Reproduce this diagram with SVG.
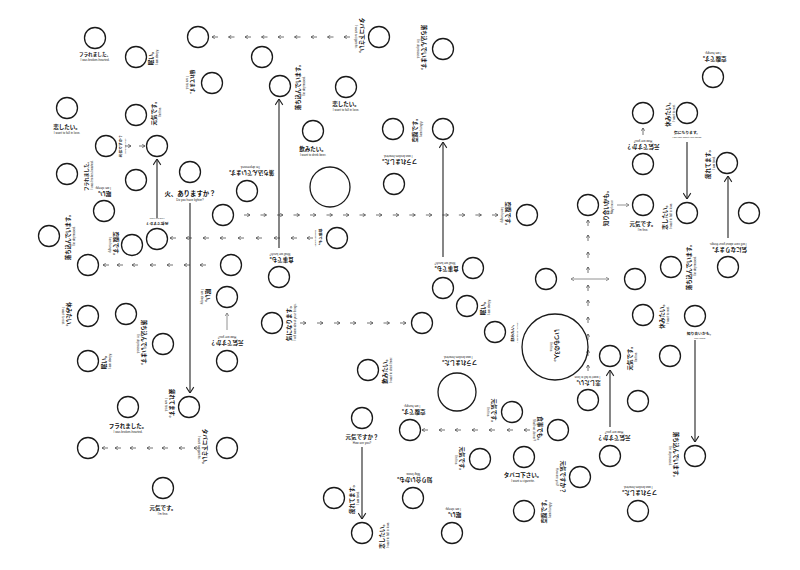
<svg xmlns="http://www.w3.org/2000/svg" width="800" height="570" viewBox="0 0 800 570">
<style>
.c{fill:none;stroke:#1a1a1a;stroke-width:1.3}
.j{font-family:"Noto Sans CJK JP","Noto Sans CJK SC",sans-serif;font-weight:700;font-size:5.5px;text-anchor:middle;fill:#111}
.e{font-family:"Liberation Sans",Arial,sans-serif;font-size:3px;text-anchor:middle;fill:#222}
.sj{font-size:3.8px}
.se{font-size:2.4px}
.d{stroke:#444;stroke-width:0.75;fill:none;marker-end:url(#s)}
.g{stroke:#777;stroke-width:0.8;fill:none}
.l{stroke:#222;stroke-width:1.1;fill:none;marker-end:url(#b)}
</style>
<defs>
<marker id="s" viewBox="0 0 6 6" refX="5.5" refY="3" markerWidth="4.2" markerHeight="4.2" orient="auto" markerUnits="userSpaceOnUse"><path d="M1.5,0.5 L5.5,3 L1.5,5.5" fill="none" stroke="#444" stroke-width="1"/></marker>
<marker id="sg" viewBox="0 0 6 6" refX="5.5" refY="3" markerWidth="4.5" markerHeight="4.5" orient="auto" markerUnits="userSpaceOnUse"><path d="M1.5,0.5 L5.5,3 L1.5,5.5" fill="none" stroke="#777" stroke-width="1"/></marker>
<marker id="sgs" viewBox="0 0 6 6" refX="0.5" refY="3" markerWidth="4.5" markerHeight="4.5" orient="auto" markerUnits="userSpaceOnUse"><path d="M4.5,0.5 L0.5,3 L4.5,5.5" fill="none" stroke="#777" stroke-width="1"/></marker>
<marker id="b" viewBox="0 0 10 10" refX="9.5" refY="5" markerWidth="9" markerHeight="9" orient="auto" markerUnits="userSpaceOnUse"><path d="M3,0.8 L9.5,5 L3,9.2" fill="none" stroke="#222" stroke-width="1.2"/></marker>
</defs>
<rect width="800" height="570" fill="#fff"/>

<g id="connectors">
<g class="d">
<path d="M218,37h-6"/><path d="M234.5,37h-6"/><path d="M251,37h-6"/><path d="M267.5,37h-6"/><path d="M284,37h-6"/><path d="M300.5,37h-6"/><path d="M317,37h-6"/><path d="M333.5,37h-6"/><path d="M350,37h-6"/>
<path d="M176,238h-6"/><path d="M192,238h-6"/><path d="M209,238h-6"/><path d="M226,238h-6"/><path d="M244,238h-6"/><path d="M262,238h-6"/><path d="M280,238h-6"/><path d="M297,238h-6"/><path d="M313,238h-6"/>
<path d="M109,265h-6"/><path d="M123,265h-6"/><path d="M138,265h-6"/><path d="M156,265h-6"/><path d="M173,265h-6"/><path d="M190,265h-6"/><path d="M206,265h-6"/>
<path d="M244,215h6"/><path d="M260.5,215h6"/><path d="M277,215h6"/><path d="M293.5,215h6"/><path d="M310,215h6"/><path d="M326.5,215h6"/><path d="M343,215h6"/><path d="M359.5,215h6"/><path d="M376,215h6"/><path d="M392.8,215h6"/><path d="M409.3,215h6"/><path d="M425.9,215h6"/><path d="M442.4,215h6"/><path d="M458.9,215h6"/><path d="M475.4,215h6"/><path d="M492,215h6"/>
<path d="M300,323h6"/><path d="M317,323h6"/><path d="M334,323h6"/><path d="M350,323h6"/><path d="M367,323h6"/><path d="M383.5,323h6"/><path d="M400,323h6"/>
<path d="M108,448h-6"/><path d="M121,448h-6"/><path d="M136,448h-6"/><path d="M153,448h-6"/><path d="M168,448h-6"/><path d="M185,448h-6"/><path d="M200,448h-6"/>
<path d="M428,430h-6"/><path d="M445,430h-6"/><path d="M461,430h-6"/><path d="M478,430h-6"/><path d="M495,430h-6"/><path d="M513,430h-6"/><path d="M530,430h-6"/>
<path d="M588,226v-6"/><path d="M588,241v-6"/><path d="M588,258v-6"/><path d="M588,273v-6"/><path d="M588,291v-6"/><path d="M588,306v-6"/><path d="M588,323v-6"/><path d="M588,340v-6"/><path d="M588,356v-6"/><path d="M588,371v-6"/>
<path d="M125,146h6"/><path d="M139,146h6"/>
<path d="M643,135v-7"/>
</g>
<path class="g" d="M617,205h12" marker-end="url(#sg)"/>
<path class="g" d="M227,330v-17" marker-end="url(#sg)"/>
<path class="g" d="M571,279h38" marker-start="url(#sgs)" marker-end="url(#sg)"/>
<path class="l" d="M157,218V159"/>
<path class="l" d="M279,248V99"/>
<path class="l" d="M443,257V142"/>
<path class="l" d="M190,203V393"/>
<path class="l" d="M687,142V199"/>
<path class="l" d="M728,238V176"/>
<path class="l" d="M695,340V442"/>
<path class="l" d="M610,427V370"/>
<path class="l" d="M362,447V519"/>
</g>

<g id="n1"><circle class="c" cx="95" cy="38" r="10.5"/><g transform="translate(95,56)"><text class="j" style="font-size:4.6px">フラれました。</text><text class="e" y="5">I was broken-hearted.</text></g></g>
<g id="n2"><circle class="c" cx="136" cy="57" r="10.5"/><g transform="translate(153,57) rotate(-90)"><text class="j">眠い。</text><text class="e" y="5">I am sleepy.</text></g></g>
<g id="n3"><circle class="c" cx="198" cy="37" r="10.5"/></g>
<g id="n4"><circle class="c" cx="262" cy="57" r="10.5"/></g>
<g id="n5"><circle class="c" cx="212" cy="83" r="10.5"/><g transform="translate(191,83) rotate(90)"><text class="j" style="font-size:4.6px">疲れてます。</text><text class="e" y="5">I am tired.</text></g></g>
<g id="n6"><circle class="c" cx="280" cy="86" r="10.5"/><g transform="translate(300,86) rotate(-90)"><text class="j">落ち込んでいます。</text><text class="e" y="5">I'm depressed.</text></g></g>
<g id="n7"><circle class="c" cx="346" cy="87" r="10.5"/><g transform="translate(346,106)"><text class="j">恋したい。</text><text class="e" y="5">I want to fall in love.</text></g></g>
<g id="n8"><circle class="c" cx="379" cy="37" r="10.5"/><g transform="translate(360,37) rotate(90)"><text class="j">タバコ下さい。</text><text class="e" y="5">I want a cigarette.</text></g></g>
<g id="n9"><circle class="c" cx="443" cy="49" r="10.5"/><g transform="translate(422,49) rotate(90)"><text class="j">落ち込んでいます。</text><text class="e" y="5">I'm depressed.</text></g></g>
<g id="n10"><circle class="c" cx="67" cy="108" r="10.5"/><g transform="translate(67,129)"><text class="j">恋したい。</text><text class="e" y="5">I want to fall in love.</text></g></g>
<g id="n11"><circle class="c" cx="136" cy="115" r="10.5"/><g transform="translate(156,112) rotate(-90)"><text class="j">元気です。</text><text class="e" y="5">I'm fine.</text></g></g>
<g id="n12"><circle class="c" cx="713" cy="77" r="10.5"/><g transform="translate(713,57) rotate(180)"><text class="j">空腹です。</text><text class="e" y="5">I am hungry.</text></g></g>
<g id="n13"><circle class="c" cx="313" cy="131" r="10.5"/><g transform="translate(313,151)"><text class="j">飲みたい。</text><text class="e" y="5">I want to drink beer.</text></g></g>
<g id="n14"><circle class="c" cx="393" cy="129" r="10.5"/><g transform="translate(417,129) rotate(-90)"><text class="j">空腹です。</text><text class="e" y="5">I am hungry.</text></g></g>
<g id="n15"><circle class="c" cx="443" cy="129" r="10.5"/></g>
<g id="n16"><circle class="c" cx="643" cy="113" r="10.5"/><g transform="translate(670,113) rotate(-90)"><text class="j">休みたい。</text><text class="e" y="5">I want to rest.</text></g></g>
<g id="n17"><circle class="c" cx="687" cy="113" r="10.5"/><g transform="translate(687,133.5)"><text class="j sj">気になります。</text><text class="e se" y="4">I will care about your things.</text></g></g>
<g id="n18"><circle class="c" cx="643" cy="164" r="10.5"/><g transform="translate(643,145) rotate(180)"><text class="j">元気ですか？</text><text class="e" y="5">How are you?</text></g></g>
<g id="n19"><circle class="c" cx="727" cy="163" r="10.5"/><g transform="translate(710,163) rotate(-90)"><text class="j">疲れてます。</text><text class="e" y="5">I am tired.</text></g></g>
<g id="n20"><circle class="c" cx="67" cy="174" r="10.5"/><g transform="translate(88,175) rotate(-90)"><text class="j" style="font-size:4.6px">フラれました。</text><text class="e" y="5">I was broken-hearted.</text></g></g>
<g id="n21"><circle class="c" cx="106" cy="146" r="10.5"/><g transform="translate(122,146) rotate(-90)"><text class="j sj">元気ですか？</text><text class="e se" y="4">How are you?</text></g></g>
<g id="n22"><circle class="c" cx="157" cy="146" r="10.5"/></g>
<g id="n23"><circle class="c" cx="136" cy="180" r="10.5"/></g>
<g id="n24"><circle class="c" cx="190" cy="172" r="10.5"/><g transform="translate(190,196)"><text class="j" style="font-size:6.4px">火、ありますか？</text><text class="e" y="5">Do you have lighter?</text></g></g>
<g id="n25"><circle class="c" cx="247" cy="191" r="10.5"/><g transform="translate(250,171) rotate(180)"><text class="j">落ち込んでいます。</text><text class="e" y="5">I'm depressed.</text></g></g>
<g id="n26"><circle class="c" cx="330" cy="187" r="20"/></g>
<g id="n27"><circle class="c" cx="394" cy="184" r="10.5"/><g transform="translate(398,160) rotate(180)"><text class="j">フラれました。</text><text class="e" y="5">I was broken-hearted.</text></g></g>
<g id="n28"><circle class="c" cx="104" cy="211" r="10.5"/><g transform="translate(103,192) rotate(180)"><text class="j">眠い。</text><text class="e" y="5">I am sleepy.</text></g></g>
<g id="n29"><circle class="c" cx="223" cy="215" r="10.5"/></g>
<g id="n30"><circle class="c" cx="49" cy="236" r="10.5"/><g transform="translate(70,236) rotate(-90)"><text class="j">落ち込んでいます。</text><text class="e" y="5">I'm depressed.</text></g></g>
<g id="n31"><circle class="c" cx="132" cy="245" r="10.5"/><g transform="translate(114,245) rotate(90)"><text class="j">空腹です。</text><text class="e" y="5">I am hungry.</text></g></g>
<g id="n32"><circle class="c" cx="157" cy="239" r="10.5"/><g transform="translate(157,222) rotate(180)"><text class="j sj">元気ですか？</text><text class="e se" y="4">How are you?</text></g></g>
<g id="n33"><circle class="c" cx="337" cy="238" r="10.5"/><g transform="translate(319,238) rotate(90)"><text class="j sj">食事でも。</text><text class="e se" y="4">Shall we lunch?</text></g></g>
<g id="n34"><circle class="c" cx="88" cy="265" r="10.5"/></g>
<g id="n35"><circle class="c" cx="231" cy="265" r="10.5"/></g>
<g id="n36"><circle class="c" cx="279" cy="277" r="10.5"/><g transform="translate(280,258) rotate(180)"><text class="j">食事でも。</text><text class="e" y="5">Shall we lunch?</text></g></g>
<g id="n37"><circle class="c" cx="527" cy="215" r="10.5"/><g transform="translate(506,215) rotate(90)"><text class="j">空腹です。</text><text class="e" y="5">I am hungry.</text></g></g>
<g id="n38"><circle class="c" cx="588" cy="205" r="10.5"/><g transform="translate(608,207) rotate(-90)"><text class="j">知り合いかも。</text><text class="e" y="5">May know.</text></g></g>
<g id="n39"><circle class="c" cx="643" cy="205" r="10.5"/><g transform="translate(643,226)"><text class="j">元気です。</text><text class="e" y="5">I'm fine.</text></g></g>
<g id="n40"><circle class="c" cx="687" cy="213" r="10.5"/><g transform="translate(667,216) rotate(-90)"><text class="j">恋したい。</text><text class="e" y="5">I want to fall in love.</text></g></g>
<g id="n41"><circle class="c" cx="749" cy="213" r="10.5"/></g>
<g id="n42"><circle class="c" cx="671" cy="267" r="10.5"/><g transform="translate(691,266) rotate(-90)"><text class="j">落ち込んでいます。</text><text class="e" y="5">I'm depressed.</text></g></g>
<g id="n43"><circle class="c" cx="728" cy="267" r="10.5"/><g transform="translate(728,248) rotate(180)"><text class="j">気になります。</text><text class="e" y="5">I will care about your things.</text></g></g>
<g id="n44"><circle class="c" cx="635" cy="279" r="10.5"/></g>
<g id="n45"><circle class="c" cx="546" cy="279" r="10.5"/></g>
<g id="n46"><circle class="c" cx="473" cy="268" r="10.5"/><g transform="translate(445,267) rotate(180)"><text class="j">食事でも。</text><text class="e" y="5">Shall we lunch?</text></g></g>
<g id="n47"><circle class="c" cx="443" cy="288" r="10.5"/></g>
<g id="n48"><circle class="c" cx="467" cy="306" r="10.5"/><g transform="translate(485,307) rotate(-90)"><text class="j">眠い。</text><text class="e" y="5">I am sleepy.</text></g></g>
<g id="n49"><circle class="c" cx="495" cy="332" r="10.5"/><g transform="translate(513.5,332) rotate(-90)"><text class="j sj">飲みたい。</text><text class="e se" y="4">I want to drink beer.</text></g></g>
<g id="n50"><circle class="c" cx="227" cy="297" r="10.5"/><g transform="translate(206,297) rotate(90)"><text class="j">眠い。</text><text class="e" y="5">I am sleepy.</text></g></g>
<g id="n51"><circle class="c" cx="88" cy="316" r="10.5"/><g transform="translate(67,316) rotate(90)"><text class="j">休みたい。</text><text class="e" y="5">I want to rest.</text></g></g>
<g id="n52"><circle class="c" cx="126" cy="314" r="10.5"/></g>
<g id="n53"><circle class="c" cx="163" cy="344" r="10.5"/><g transform="translate(142,344) rotate(90)"><text class="j">落ち込んでいます。</text><text class="e" y="5">I'm depressed.</text></g></g>
<g id="n54"><circle class="c" cx="88" cy="361" r="10.5"/><g transform="translate(106,361) rotate(-90)"><text class="j">眠い。</text><text class="e" y="5">I am sleepy.</text></g></g>
<g id="n55"><circle class="c" cx="227" cy="361" r="10.5"/><g transform="translate(227,341) rotate(180)"><text class="j">元気ですか？</text><text class="e" y="5">How are you?</text></g></g>
<g id="n56"><circle class="c" cx="272" cy="323" r="10.5"/><g transform="translate(291,322) rotate(-90)"><text class="j">気になります。</text><text class="e" y="5">I will care about your things.</text></g></g>
<g id="n57"><circle class="c" cx="422" cy="323" r="10.5"/></g>
<g id="n58"><circle class="c" cx="555" cy="347" r="33"/><g transform="translate(555,347) rotate(90)"><text class="j">いつもの3人。</text><text class="e" y="5">I'm fine.</text></g></g>
<g id="n59"><circle class="c" cx="368" cy="370" r="10.5"/><g transform="translate(387,370) rotate(-90)"><text class="j">飲みたい。</text><text class="e" y="5">I want to drink beer.</text></g></g>
<g id="n60"><circle class="c" cx="457" cy="392" r="19"/><g transform="translate(458,361) rotate(180)"><text class="j">フラれました。</text><text class="e" y="5">I was broken-hearted.</text></g></g>
<g id="n61"><circle class="c" cx="643" cy="315" r="10.5"/><g transform="translate(664,315) rotate(-90)"><text class="j">休みたい。</text><text class="e" y="5">I want to rest.</text></g></g>
<g id="n62"><circle class="c" cx="695" cy="316" r="10.5"/><g transform="translate(700,334.5)"><text class="j sj">知り合いかも。</text><text class="e se" y="4">May know.</text></g></g>
<g id="n63"><circle class="c" cx="670" cy="356" r="10.5"/></g>
<g id="n64"><circle class="c" cx="610" cy="356" r="10.5"/><g transform="translate(632,357) rotate(-90)"><text class="j">元気です。</text><text class="e" y="5">I'm fine.</text></g></g>
<g id="n65"><circle class="c" cx="588" cy="400" r="10.5"/><g transform="translate(587,381) rotate(180)"><text class="j">恋したい。</text><text class="e" y="5">I want to fall in love.</text></g></g>
<g id="n66"><circle class="c" cx="189" cy="407" r="10.5"/><g transform="translate(170,405) rotate(90)"><text class="j">疲れてます。</text><text class="e" y="5">I am tired.</text></g></g>
<g id="n67"><circle class="c" cx="128" cy="407" r="10.5"/><g transform="translate(128,428)"><text class="j">フラれました。</text><text class="e" y="5">I was broken-hearted.</text></g></g>
<g id="n68"><circle class="c" cx="638" cy="401" r="10.5"/></g>
<g id="n69"><circle class="c" cx="362" cy="418" r="10.5"/><g transform="translate(362,439)"><text class="j">元気ですか？</text><text class="e" y="5">How are you?</text></g></g>
<g id="n70"><circle class="c" cx="88" cy="448" r="10.5"/></g>
<g id="n71"><circle class="c" cx="227" cy="448" r="10.5"/><g transform="translate(203,448) rotate(90)"><text class="j">タバコ下さい。</text><text class="e" y="5">I want a cigarette.</text></g></g>
<g id="n72"><circle class="c" cx="410" cy="430" r="10.5"/><g transform="translate(412,410) rotate(180)"><text class="j">空腹です。</text><text class="e" y="5">I am hungry.</text></g></g>
<g id="n73"><circle class="c" cx="512" cy="412" r="10.5"/><g transform="translate(492,412) rotate(90)"><text class="j">元気です。</text><text class="e" y="5">I'm fine.</text></g></g>
<g id="n74"><circle class="c" cx="558" cy="430" r="10.5"/><g transform="translate(538,430) rotate(90)"><text class="j">食事でも。</text><text class="e" y="5">Shall we dinner?</text></g></g>
<g id="n75"><circle class="c" cx="610" cy="456" r="10.5"/><g transform="translate(614,436) rotate(180)"><text class="j">元気ですか？</text><text class="e" y="5">How are you?</text></g></g>
<g id="n76"><circle class="c" cx="695" cy="456" r="10.5"/><g transform="translate(674,456) rotate(90)"><text class="j">落ち込んでいます。</text><text class="e" y="5">I'm depressed.</text></g></g>
<g id="n77"><circle class="c" cx="163" cy="488" r="10.5"/><g transform="translate(163,510)"><text class="j">元気です。</text><text class="e" y="5">I'm fine.</text></g></g>
<g id="n78"><circle class="c" cx="480" cy="459" r="10.5"/><g transform="translate(460,460) rotate(90)"><text class="j">元気です。</text><text class="e" y="5">I'm fine.</text></g></g>
<g id="n79"><circle class="c" cx="524" cy="457" r="10.5"/><g transform="translate(523,477)"><text class="j">タバコ下さい。</text><text class="e" y="5">I want a cigarette.</text></g></g>
<g id="n80"><circle class="c" cx="580" cy="477" r="10.5"/><g transform="translate(561,477) rotate(90)"><text class="j">元気ですか？</text><text class="e" y="5">How are you?</text></g></g>
<g id="n81"><circle class="c" cx="413" cy="498" r="10.5"/><g transform="translate(413,478) rotate(180)"><text class="j">知り合いかも。</text><text class="e" y="5">May know.</text></g></g>
<g id="n82"><circle class="c" cx="334" cy="498" r="10.5"/><g transform="translate(354,498) rotate(-90)"><text class="j">疲れてます。</text><text class="e" y="5">I am tired.</text></g></g>
<g id="n83"><circle class="c" cx="638" cy="511" r="10.5"/><g transform="translate(638,491) rotate(180)"><text class="j">フラれました。</text><text class="e" y="5">I was broken-hearted.</text></g></g>
<g id="n84"><circle class="c" cx="362" cy="533" r="10.5"/><g transform="translate(384,535) rotate(-90)"><text class="j">恋したい。</text><text class="e" y="5">I want to fall in love.</text></g></g>
<g id="n85"><circle class="c" cx="452" cy="533" r="10.5"/><g transform="translate(453,513) rotate(180)"><text class="j">眠い。</text><text class="e" y="5">I am sleepy.</text></g></g>
<g id="n86"><circle class="c" cx="524" cy="511" r="10.5"/><g transform="translate(546,510) rotate(-90)"><text class="j">空腹です。</text><text class="e" y="5">I am hungry.</text></g></g>
</svg>
